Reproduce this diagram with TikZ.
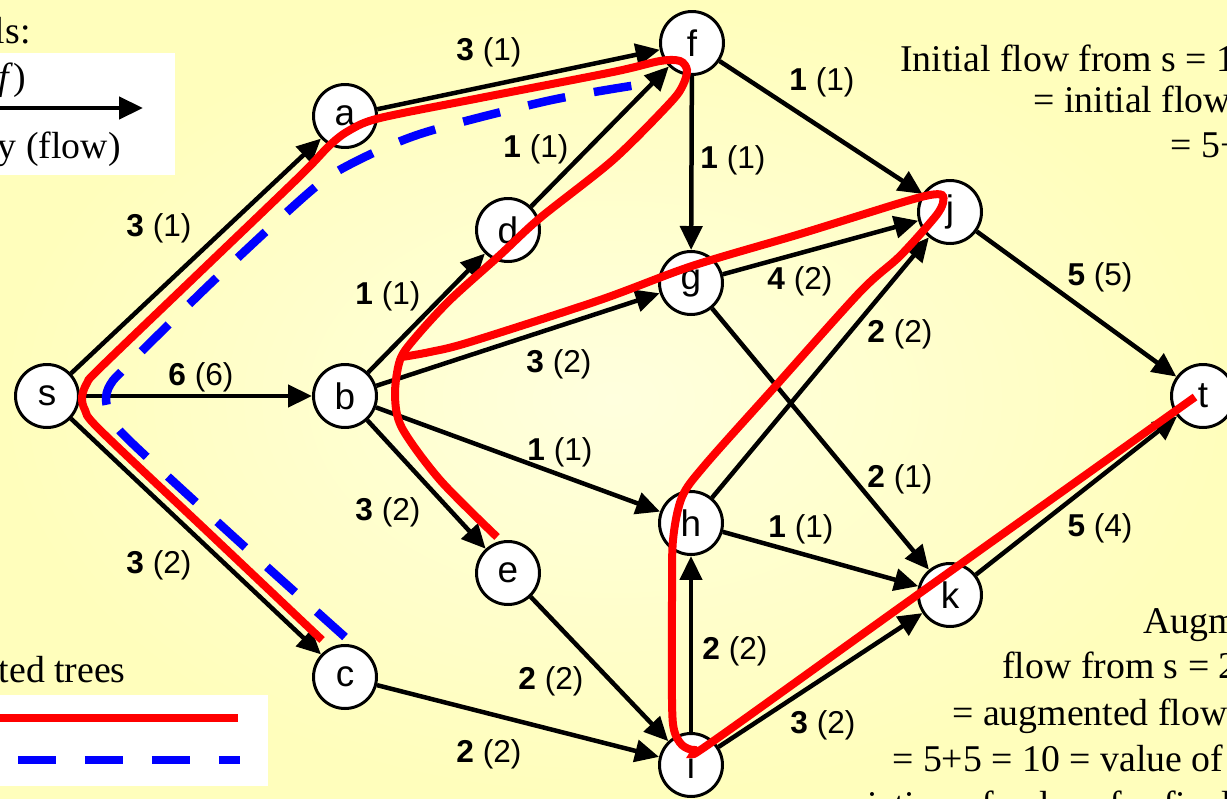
\documentclass[tikz,border=0pt]{standalone}
\usepackage{fontspec}
\setmainfont{Liberation Serif}
\newfontfamily\arialfont{Liberation Sans}
\usetikzlibrary{arrows.meta}
\definecolor{bgin}{RGB}{255,255,222}
\definecolor{bgout}{RGB}{255,254,188}
\definecolor{treered}{RGB}{255,0,0}
\definecolor{treeblue}{RGB}{0,0,255}
\newcommand{\capflow}[2]{\textbf{#1} (#2)}

\begin{document}
\begin{tikzpicture}[x=0.02cm, y=-0.02cm,
                   vertex/.style={circle, draw, line width=0.06cm, fill=white, minimum size=1.26cm,
                                  inner sep=0pt, font=\arialfont\fontsize{21}{21}\selectfont},
                   edge/.style={line width=0.09cm, -{Triangle[length=0.48cm, width=0.44cm]}},
                   lbl/.style={inner sep=0pt, font=\arialfont\fontsize{18}{18}\selectfont},
                   note/.style={anchor=base west, inner sep=0pt, font=\fontsize{21.5}{24}\selectfont},
                   noteR/.style={note, anchor=base east},
                   redtree/.style={draw=treered, line width=0.16cm},
                   bluetree/.style={draw=treeblue, line width=0.17cm, dash pattern=on 0.76cm off 0.58cm}]
    \clip (0,0) rectangle (1227,798);
    \shade[inner color=bgin, outer color=bgout] (0,0) rectangle (1227,798);

    % legend boxes
    \fill[white] (0,53) rectangle (175,175);
    \fill[white] (0,695) rectangle (268,786);
    \node[noteR] (hd1) at (31,43) {Edge labels:};
    \node[noteR] (hd2) at (26,89) {\textit{c} (\textit{f})};
    \node[noteR] (hd3) at (121,158) {capacity (flow)};
    \coordinate (lg1) at (-20,108);
    \coordinate (lg2) at (143,108);
    \draw[edge] (lg1) -- (lg2);
    \node[noteR] (hd4) at (126,682) {Augmented trees};
    \coordinate (rl1) at (-20,718);
    \coordinate (rl2) at (238,718);
    \coordinate (bl1) at (18,760);
    \coordinate (bl2) at (240,760);
    \draw[redtree] (rl1) -- (rl2);
    \draw[bluetree] (bl1) -- (bl2);

    % notes
    \node[note] (n1) at (900,71) {Initial flow from s = 1+6+2};
    \node[note] (n2) at (1033,112) {= initial flow into t};
    \node[note] (n3) at (1170,157) {= 5+4 = 9};
    \node[note] (m1) at (1143,633) {Augmented};
    \node[note] (m2) at (1002,678) {flow from s = 2+6+2};
    \node[note] (m3) at (952,725) {= augmented flow into t};
    \node[note] (m4) at (892,771) {= 5+5 = 10 = value of};
    \node[note] (m5) at (785,817) {association of values for final};

    % vertices
    \node[vertex] (s) at (47,396) {s};
    \node[vertex] (a) at (345,116) {a};
    \node[vertex] (b) at (345,396) {b};
    \node[vertex] (c) at (345,677) {c};
    \node[vertex] (d) at (508,230) {d};
    \node[vertex] (e) at (508,573) {e};
    \node[vertex] (f) at (692,43) {f};
    \node[vertex] (g) at (691,283) {g};
    \node[vertex] (h) at (691,523) {h};
    \node[vertex] (i) at (691,765) {i};
    \node[vertex] (j) at (950,212) {j};
    \node[vertex] (k) at (950,595) {k};
    \node[vertex] (t) at (1203,396) {t};

    % arcs
    \draw[edge] (s) -- (a);
    \draw[edge] (s) -- (b);
    \draw[edge] (s) -- (c);
    \draw[edge] (a) -- (f);
    \draw[edge] (b) -- (d);
    \draw[edge] (b) -- (g);
    \draw[edge] (b) -- (h);
    \draw[edge] (b) -- (e);
    \draw[edge] (d) -- (f);
    \draw[edge] (f) -- (g);
    \draw[edge] (f) -- (j);
    \draw[edge] (g) -- (j);
    \draw[edge] (g) -- (k);
    \draw[edge] (h) -- (j);
    \draw[edge] (h) -- (k);
    \draw[edge] (i) -- (h);
    \draw[edge] (i) -- (k);
    \draw[edge] (c) -- (i);
    \draw[edge] (e) -- (i);
    \draw[edge] (j) -- (t);
    \draw[edge] (k) -- (t);

    % capacity (flow) labels
    \node[lbl] (lsa) at (159,228) {\capflow{3}{1}};
    \node[lbl] (lsb) at (201,377) {\capflow{6}{6}};
    \node[lbl] (lsc) at (159,565) {\capflow{3}{2}};
    \node[lbl] (laf) at (489,52) {\capflow{3}{1}};
    \node[lbl] (lbd) at (388,296) {\capflow{1}{1}};
    \node[lbl] (lbg) at (559,364) {\capflow{3}{2}};
    \node[lbl] (lbh) at (560,452) {\capflow{1}{1}};
    \node[lbl] (lbe) at (388,512) {\capflow{3}{2}};
    \node[lbl] (ldf) at (536,149) {\capflow{1}{1}};
    \node[lbl] (lfg) at (733,160) {\capflow{1}{1}};
    \node[lbl] (lfj) at (822,82) {\capflow{1}{1}};
    \node[lbl] (lgj) at (800,281) {\capflow{4}{2}};
    \node[lbl] (lhj) at (900,334) {\capflow{2}{2}};
    \node[lbl] (lgk) at (900,479) {\capflow{2}{1}};
    \node[lbl] (lhk) at (801,529) {\capflow{1}{1}};
    \node[lbl] (ljt) at (1100,277) {\capflow{5}{5}};
    \node[lbl] (lkt) at (1100,528) {\capflow{5}{4}};
    \node[lbl] (lih) at (735,651) {\capflow{2}{2}};
    \node[lbl] (lei) at (551,681) {\capflow{2}{2}};
    \node[lbl] (lci) at (489,754) {\capflow{2}{2}};
    \node[lbl] (lik) at (823,725) {\capflow{3}{2}};

    % augmenting trees
    \draw[bluetree] plot[smooth, tension=0.5] coordinates {(345,637) (235,538) (133,444) (112,420) (106,400)
        (110,385) (125,368) (210,284) (306,195) (345,167) (420,134) (547,101) (637,85)};
    \draw[redtree] plot[smooth, tension=0.5] coordinates {(322,640) (210,534) (100,430) (85,410) (82,397)
        (87,383) (100,368) (200,272) (300,176) (330,145) (350,130) (380,118) (480,98) (613,72) (660,61)
        (680,61) (687,70) (683,85) (670,103) (613,160) (540,218) (500,255) (450,300) (415,338) (400,360)
        (395,395) (402,428) (440,480) (497,537)};
    \draw[redtree] plot[smooth, tension=0.5] coordinates {(402,357) (430,352) (470,342) (600,300) (692,266)
        (800,234) (900,203) (930,195) (942,195) (943,203) (935,217) (900,256) (860,292) (772,390) (705,465)
        (682,497) (673,540) (672,600) (672,700) (674,730) (682,745) (695,750) (712,742) (920,593) (1195,397)};
\end{tikzpicture}
\end{document}
